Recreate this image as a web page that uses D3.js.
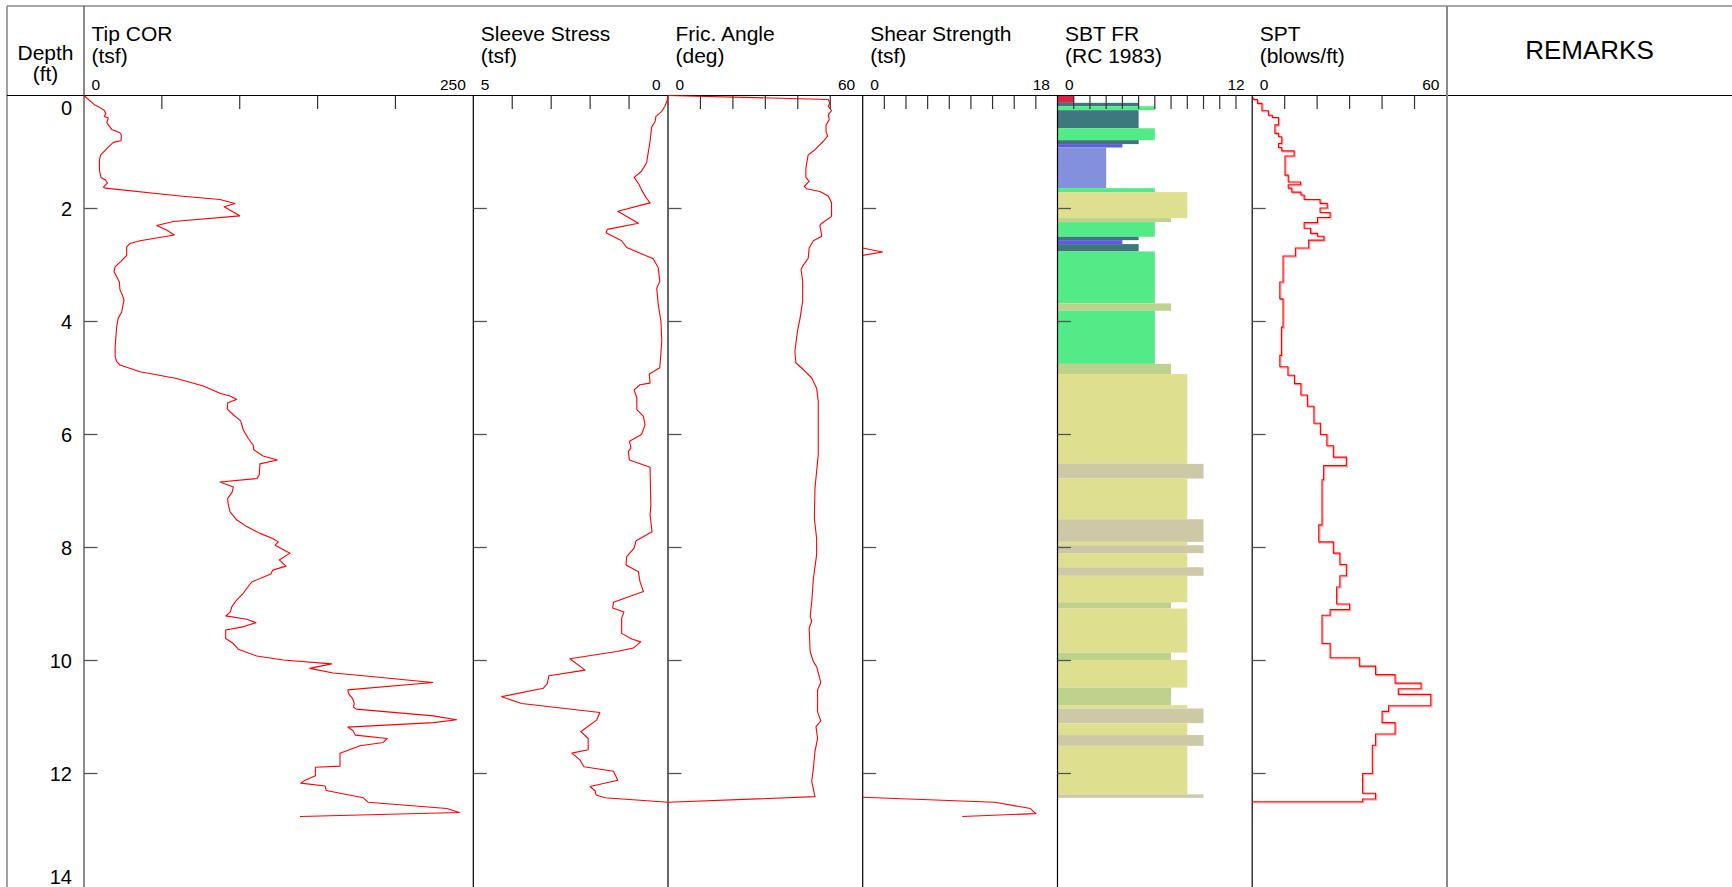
<!DOCTYPE html>
<html>
<head>
<meta charset="utf-8">
<script src="https://cdn.jsdelivr.net/npm/d3@7"></script>
<style>
  html, body { margin: 0; padding: 0; background: #fff; }
  svg { display: block; }
  text { font-family: "Liberation Sans", Arial, Helvetica, sans-serif; fill: #000; }
</style>
</head>
<body>
<svg id="log" width="1732" height="887"></svg>
<script>
// ---------------- Data ----------------
const depthTicks = [0, 2, 4, 6, 8, 10, 12, 14];

// Cone tip resistance, corrected (tsf)
const tipDepth = [0.00,0.17,0.21,0.26,0.32,0.37,0.40,0.48,0.60,0.66,0.70,0.80,0.83,0.93,1.05,1.14,1.32,1.45,1.50,1.55,1.62,1.64,1.78,1.84,1.91,1.97,2.13,2.23,2.30,2.38,2.47,2.57,2.62,2.68,2.83,2.94,3.03,3.12,3.21,3.30,3.44,3.53,3.62,3.83,3.94,4.09,4.45,4.62,4.71,4.77,4.89,5.01,5.14,5.27,5.32,5.38,5.44,5.55,5.65,5.76,5.92,6.07,6.19,6.27,6.38,6.45,6.52,6.72,6.78,6.84,6.93,7.03,7.13,7.22,7.37,7.51,7.63,7.75,7.84,7.90,7.96,8.10,8.22,8.33,8.40,8.47,8.61,8.69,8.81,8.93,9.05,9.14,9.21,9.27,9.33,9.40,9.46,9.61,9.70,9.80,9.92,9.99,10.06,10.14,10.22,10.27,10.39,10.52,10.59,10.67,10.76,10.82,10.86,10.98,11.05,11.10,11.18,11.24,11.32,11.38,11.45,11.51,11.64,11.87,11.89,12.04,12.13,12.17,12.22,12.30,12.43,12.51,12.62,12.69,12.76];
const tipCOR   = [0,7,10,13,14,13,15.6,14.6,17.8,23,24,23.8,18.8,15,10.7,9.9,9.9,10.9,14,15,12.4,13.5,61.7,87.3,97,90,100,57.4,46.7,53,58,36,29.5,27.4,27.4,23.6,20,19.3,21,22.7,23.1,24.6,25.7,24.2,22,21,20,20,21,23.1,36,59.5,76.6,87.3,93.8,98,92.3,92,95.9,100.6,102.3,105.5,108.7,109,115,124.2,113,112.5,111,87.3,95.9,95,92.3,92.5,93.8,98,104.5,113,121.2,124.8,122.7,132.3,125.4,129.7,121.2,120,107.7,105.5,102.3,98,94.9,94,91,104.5,110.5,102.8,91,91,95.9,99,110.9,128,159,145,160,179.4,224,169.4,170,172.4,173.6,173,174.7,224.4,239.3,224.4,169.4,172.6,174.3,194.8,192.2,177.3,164.4,164.4,148.6,148.6,141.3,139.2,154.8,155.5,179.4,182.6,233,241,138.7];

// Sleeve friction (tsf)
const sleeveDepth  = [0.00,0.09,0.19,0.28,0.37,0.46,0.56,0.81,1.02,1.19,1.34,1.45,1.58,1.67,1.81,1.90,2.05,2.26,2.37,2.43,2.57,2.69,2.89,3.05,3.29,3.41,3.70,4.00,4.35,4.82,4.93,5.09,5.12,5.21,5.35,5.56,5.68,5.83,6.00,6.12,6.24,6.30,6.45,6.58,6.95,7.25,7.42,7.72,7.88,8.01,8.16,8.31,8.43,8.60,8.78,8.97,9.07,9.14,9.25,9.52,9.62,9.67,9.78,9.84,9.97,10.17,10.27,10.41,10.49,10.64,10.76,10.92,11.05,11.26,11.38,11.58,11.64,11.76,11.88,11.96,12.12,12.23,12.31,12.38,12.43,12.51];
const sleeveStress = [0,0.02,0.08,0.16,0.31,0.33,0.42,0.46,0.51,0.55,0.68,0.87,0.74,0.68,0.56,0.46,1.29,0.76,1.56,1.59,1.19,1.06,0.38,0.25,0.21,0.29,0.25,0.18,0.16,0.21,0.48,0.46,0.72,0.87,0.80,0.80,0.63,0.59,0.68,0.99,0.95,1.02,0.99,0.46,0.45,0.44,0.46,0.41,0.82,0.87,1.06,1.08,0.76,0.72,0.63,1.40,1.42,1.13,1.19,1.19,0.93,0.70,0.89,1.32,2.52,2.13,3.06,3.10,3.20,4.27,3.76,1.75,1.83,2.24,2.05,2.05,2.47,2.26,2.16,1.40,1.29,2.0,1.87,1.85,1.62,0];

// Friction angle (deg)
const fricDepth = [0.00,0.07,0.13,0.19,0.27,0.34,0.43,0.52,0.64,0.72,0.81,0.90,0.96,1.05,1.28,1.45,1.52,1.61,1.65,1.70,1.78,1.90,2.14,2.26,2.30,2.49,2.57,2.70,2.88,3.02,3.08,3.29,3.64,3.94,4.17,4.53,4.73,4.85,5.00,5.18,5.41,6.36,6.65,6.95,7.48,7.84,8.13,8.55,8.96,9.22,9.30,9.43,9.84,10.02,10.11,10.39,10.52,10.91,11.07,11.17,11.38,11.61,11.91,12.14,12.41,12.51];
const fricAngle = [0,49.4,49.9,49.4,50.4,49.4,49.7,48.7,48.7,49.2,47.9,46.3,45.3,43.2,42.5,42.5,43.5,42.0,42.7,46.8,49.4,50.4,50.4,47.4,46.8,47.4,44.8,43.5,43.2,41.5,41.0,41.5,41.5,40.7,39.9,39.1,39.4,41.7,44.3,45.8,46.3,46.3,45.8,45.3,45.1,45.8,45.8,44.8,44.3,43.8,44.3,43.5,43.8,44.8,45.8,47.1,46.1,46.1,47.1,45.6,46.1,45.3,44.8,44.3,45.3,0];

// Undrained shear strength (tsf); null breaks the trace
const shearDepth    = [2.70,2.77,2.83,null,12.42,12.51,12.62,12.71,12.76];
const shearStrength = [0,1.84,0,null,0,12.2,15.5,16.0,9.2];

// Soil behaviour type (Robertson & Campanella 1983), zone per interval
const sbtTop  = [0.00,0.13,0.19,0.26,0.58,0.79,0.86,0.92,1.64,1.71,2.17,2.24,2.50,2.56,2.63,2.76,3.68,3.81,4.75,4.93,6.52,6.78,7.50,7.90,7.96,8.10,8.35,8.50,8.97,9.08,9.86,9.99,10.48,10.79,10.85,11.11,11.32,11.51,12.37];
const sbtBase = [0.13,0.19,0.26,0.58,0.79,0.86,0.92,1.64,1.71,2.17,2.24,2.50,2.56,2.63,2.76,3.68,3.81,4.75,4.93,6.52,6.78,7.50,7.90,7.96,8.10,8.35,8.50,8.97,9.08,9.86,9.99,10.48,10.79,10.85,11.11,11.32,11.51,12.37,12.43];
const sbtZone = [1,5,6,5,6,5,4,3,6,8,7,6,5,4,5,6,7,6,7,8,9,8,9,8,9,8,9,8,7,8,7,8,7,8,9,8,9,8,9];
const sbtColors = ["#dc2544","#9a6a3a","#8390dc","#5c5ce0","#3d787e","#52eb87","#bdd28b","#dfe08f","#cdc8a5","#c8b888","#a0a0a0","#e0c0a0"];

// Equivalent SPT N (blows/ft), value held over each interval
const sptTop   = [0.03,0.07,0.14,0.27,0.35,0.39,0.52,0.67,0.73,0.85,0.92,0.98,1.07,1.41,1.53,1.58,1.64,1.71,1.76,1.84,1.91,1.99,2.07,2.16,2.25,2.35,2.44,2.49,2.56,2.70,2.84,3.30,3.60,4.10,4.60,4.80,4.95,5.10,5.30,5.50,5.80,6.00,6.20,6.40,6.55,6.80,7.60,7.90,8.10,8.30,8.50,8.70,9.00,9.10,9.20,9.70,9.95,10.10,10.25,10.40,10.50,10.60,10.80,10.90,11.10,11.30,11.50,12.00,12.35,12.45];
const sptBase  = [0.07,0.14,0.27,0.35,0.39,0.52,0.67,0.73,0.85,0.92,0.98,1.07,1.41,1.53,1.58,1.64,1.71,1.76,1.84,1.91,1.99,2.07,2.16,2.25,2.35,2.44,2.49,2.56,2.70,2.84,3.30,3.60,4.10,4.60,4.80,4.95,5.10,5.30,5.50,5.80,6.00,6.20,6.40,6.55,6.80,7.60,7.90,8.10,8.30,8.50,8.70,9.00,9.10,9.20,9.70,9.95,10.10,10.25,10.40,10.50,10.60,10.80,10.90,11.10,11.30,11.50,12.00,12.35,12.45,12.50];
const sptBlows = [0.3,1.6,3.0,5.0,6.2,8.1,7.0,8.1,9.1,8.1,9.1,12.9,10.1,11.1,14.9,11.1,12.2,15.0,16.0,20.9,23.1,20.9,24.0,20.1,16.0,18.0,20.1,22.1,17.4,13.3,9.5,8.5,9.5,9.0,8.5,11,13,15,17,19,21,23,25,29,22,21.5,20.5,25,27,29,27,26,30,24,21.5,24,33,38,44,52,45,55,42,40,44,38,37,34,38,34];

// ---------------- Layout ----------------
const W = 1732, H = 887;
const frameLeft = 7, frameTop = 6;
const headerBottom = 95.5;
const depthColRight = 84;
const remarksLeft = 1447;

const tracks = [
  { title: "Tip COR",        unit: "(tsf)",       domain: [0, 250], step: 50, x0: 84,     x1: 473.3 },
  { title: "Sleeve Stress",  unit: "(tsf)",       domain: [5, 0],   step: 1,  x0: 473.3,  x1: 668 },
  { title: "Fric. Angle",    unit: "(deg)",       domain: [0, 60],  step: 10, x0: 668,    x1: 862.7 },
  { title: "Shear Strength", unit: "(tsf)",       domain: [0, 18],  step: 2,  x0: 862.7,  x1: 1057.5 },
  { title: "SBT FR",         unit: "(RC 1983)",   domain: [0, 12],  step: 1,  x0: 1057.5, x1: 1252.2 },
  { title: "SPT",            unit: "(blows/ft)",  domain: [0, 60],  step: 10, x0: 1252.2, x1: 1447 }
];
tracks.forEach(t => { t.x = d3.scaleLinear().domain(t.domain).range([t.x0, t.x1]); });

const y = d3.scaleLinear().domain([0, 14]).range([headerBottom, H - 0.5]);

const svg = d3.select("#log");
svg.append("rect").attr("width", W).attr("height", H).attr("fill", "#fff");

const gBars = svg.append("g");
const gGrid = svg.append("g");
const gCurves = svg.append("g");
const gText = svg.append("g");

// ---------------- SBT bars ----------------
const sbtX = tracks[4].x;
gBars.selectAll("rect.sbt")
  .data(sbtZone.map((z, i) => ({ z, top: sbtTop[i], base: sbtBase[i] })))
  .join("rect")
  .attr("class", "sbt")
  .attr("x", sbtX(0))
  .attr("y", d => y(d.top))
  .attr("width", d => sbtX(d.z) - sbtX(0))
  .attr("height", d => y(d.base) - y(d.top))
  .attr("fill", d => sbtColors[d.z - 1]);

// ---------------- Frame and grid ----------------
const line = (x1, y1, x2, y2, stroke, sw) =>
  gGrid.append("line").attr("x1", x1).attr("y1", y1).attr("x2", x2).attr("y2", y2)
    .attr("stroke", stroke).attr("stroke-width", sw);

line(frameLeft, frameTop, W, frameTop, "#8a8a8a", 1.3);
line(frameLeft, frameTop, frameLeft, H, "#8a8a8a", 1.6);
line(depthColRight, frameTop, depthColRight, H, "#5a5a5a", 1.4);
line(frameLeft, headerBottom, W, headerBottom, "#000", 1.2);
tracks.slice(1).forEach(t => line(t.x0, headerBottom, t.x0, H, "#000", 1.2));
line(remarksLeft, frameTop, remarksLeft, H, "#8a8a8a", 2);

// scale ticks along the top of each track
tracks.forEach(t => {
  const lo = Math.min(...t.domain), hi = Math.max(...t.domain);
  const vals = d3.range(lo + t.step, hi - t.step / 2, t.step);
  gGrid.selectAll(null).data(vals).join("line")
    .attr("x1", v => t.x(v)).attr("x2", v => t.x(v))
    .attr("y1", headerBottom).attr("y2", headerBottom + 13.5)
    .attr("stroke", "#333").attr("stroke-width", 1.2);
});

// depth ticks at the left edge of each track
tracks.forEach(t => {
  gGrid.selectAll(null).data(depthTicks.filter(d => d > 0 && d < 14)).join("line")
    .attr("x1", t.x0).attr("x2", t.x0 + 13.5)
    .attr("y1", d => y(d)).attr("y2", d => y(d))
    .attr("stroke", "#555").attr("stroke-width", 1.3);
});

// ---------------- Curves ----------------
const red = "#ff0000";
function trace(track, depths, values) {
  const pts = depths.map((d, i) => [values[i], d]);
  const gen = d3.line()
    .defined(p => p[0] !== null && p[1] !== null)
    .x(p => track.x(p[0]))
    .y(p => y(p[1]));
  gCurves.append("path").attr("d", gen(pts))
    .attr("fill", "none").attr("stroke", red).attr("stroke-width", 1.1)
    .attr("stroke-linejoin", "round");
}
trace(tracks[0], tipDepth, tipCOR);
trace(tracks[1], sleeveDepth, sleeveStress);
trace(tracks[2], fricDepth, fricAngle);
trace(tracks[3], shearDepth, shearStrength);

// SPT step trace
const sptPts = [];
sptBlows.forEach((v, i) => { sptPts.push([v, sptTop[i]]); sptPts.push([v, sptBase[i]]); });
sptPts.push([0, sptBase[sptBase.length - 1]]);
const sptX = tracks[5].x;
const sptLine = d3.line().x(p => sptX(p[0])).y(p => y(p[1]));
gCurves.append("path").attr("d", sptLine(sptPts))
  .attr("fill", "none").attr("stroke", "#f7b4b4").attr("stroke-width", 1.6)
  .attr("transform", "translate(1,1)");
gCurves.append("path").attr("d", sptLine(sptPts))
  .attr("fill", "none").attr("stroke", red).attr("stroke-width", 1.1);

// ---------------- Header text ----------------
gText.append("text").attr("x", (frameLeft + depthColRight) / 2).attr("y", 60)
  .attr("text-anchor", "middle").attr("font-size", 21).text("Depth");
gText.append("text").attr("x", (frameLeft + depthColRight) / 2).attr("y", 80.5)
  .attr("text-anchor", "middle").attr("font-size", 21).text("(ft)");

tracks.forEach(t => {
  gText.append("text").attr("x", t.x0 + 7.5).attr("y", 40.5).attr("font-size", 21).text(t.title);
  gText.append("text").attr("x", t.x0 + 7.5).attr("y", 63).attr("font-size", 21).text(t.unit);
  gText.append("text").attr("x", t.x0 + 7.5).attr("y", 89.5).attr("font-size", 15.5).text(t.domain[0]);
  gText.append("text").attr("x", t.x1 - 7.5).attr("y", 89.5).attr("font-size", 15.5)
    .attr("text-anchor", "end").text(t.domain[1]);
});

gText.append("text").attr("x", (remarksLeft + W) / 2).attr("y", 59)
  .attr("text-anchor", "middle").attr("font-size", 26).text("REMARKS");

// depth labels
gText.selectAll("text.depth").data(depthTicks).join("text")
  .attr("class", "depth")
  .attr("x", 72)
  .attr("y", d => {
    const base = y(d) + 7.2;
    return Math.min(Math.max(base, headerBottom + 19.5), H - 3);
  })
  .attr("text-anchor", "end").attr("font-size", 20)
  .text(d => d);
</script>
</body>
</html>
